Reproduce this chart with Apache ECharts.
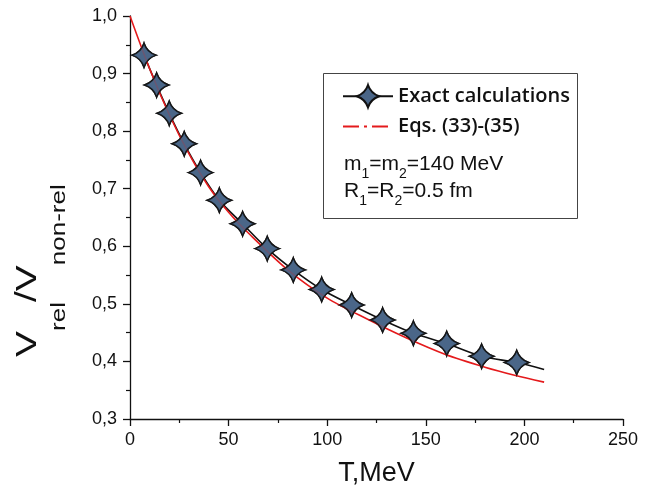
<!DOCTYPE html>
<html><head><meta charset="utf-8">
<script src="https://cdn.jsdelivr.net/npm/echarts@6/dist/echarts.min.js"></script>
<style>html,body{margin:0;padding:0;background:#fff}#c{width:663px;height:494px}</style>
</head><body><div id="c"></div>
<script>
// ---- data ----
const exactT = [7.1, 13.5, 19.9, 27.5, 35.8, 45.3, 57.1, 69.6, 82.8, 97.2, 112.4, 128.1, 143.7, 160.6, 178.3, 196.1];
const exactV = [0.932, 0.880, 0.831, 0.778, 0.728, 0.680, 0.639, 0.596, 0.559, 0.525, 0.498, 0.472, 0.449, 0.431, 0.409, 0.398];
const exactEndT = [210];
const exactEndV = [0.386];
const eqT = [0, 10, 20, 30, 40, 50, 60, 80, 100, 120, 140, 160, 180, 195, 210];
const eqV = [1.0, 0.908, 0.828, 0.760, 0.703, 0.659, 0.623, 0.559, 0.510, 0.474, 0.441, 0.412, 0.390, 0.376, 0.364];
const seriesNames = ['Exact calculations', 'Eqs. (33)-(35)'];
const xTickLabels = ['0', '50', '100', '150', '200', '250'];
const yTickLabels = ['0,3', '0,4', '0,5', '0,6', '0,7', '0,8', '0,9', '1,0'];

const FONT = '"Liberation Sans", Arial, sans-serif';
const STAR = 'path://M0,-12Q3,-3 12,0Q3,3 0,12Q-3,3 -12,0Q-3,-3 0,-12Z';
const starStyle = { color: '#4a6688', borderColor: '#111', borderWidth: 1.5 };

const mctx = document.createElement('canvas').getContext('2d');
function tw(t, s) { mctx.font = s + 'px "Liberation Sans"'; return mctx.measureText(t).width; }
function subText(parts, x, y, extra) {
  let cx = 0; const children = [];
  parts.forEach(([t, s, dy]) => {
    children.push({ type: 'text', x: cx, y: dy - 0.346 * s,
      style: { text: t, fontSize: s, fontFamily: FONT, fill: '#111',
               align: 'left', verticalAlign: 'middle', textAlign: 'left', textVerticalAlign: 'middle' } });
    cx += tw(t, s);
  });
  return Object.assign({ type: 'group', x: x, y: y, children: children }, extra || {});
}

const exactPairs = exactT.map((t, i) => [t, exactV[i]]);
const exactLine = exactPairs.concat(exactEndT.map((t, i) => ({ value: [t, exactEndV[i]], symbol: 'none' })));
const eqPairs = eqT.map((t, i) => [t, eqV[i]]);

const axisCommon = {
  axisLine: { show: true, lineStyle: { color: '#111', width: 1.3 } },
  axisTick: { show: true, length: 7, lineStyle: { color: '#111', width: 1.3 } },
  minorTick: { show: true, splitNumber: 2, length: 4, lineStyle: { color: '#111', width: 1.2 } },
  splitLine: { show: false }
};

const chart = echarts.init(document.getElementById('c'));
chart.setOption({
  animation: false,
  backgroundColor: '#fff',
  grid: { left: 130, right: 40, top: 16, bottom: 75 },
  xAxis: Object.assign({
    type: 'value', min: 0, max: 250, interval: 50,
    name: 'T,MeV', nameLocation: 'middle', nameGap: 41,
    nameTextStyle: { fontSize: 27, color: '#111', fontFamily: FONT },
    axisLabel: { fontSize: 18, color: '#111', fontFamily: FONT, margin: 12,
                 formatter: v => xTickLabels[Math.round(v / 50)] }
  }, axisCommon),
  yAxis: Object.assign({
    type: 'value', min: 0.3, max: 1.0, interval: 0.1,
    axisLabel: { fontSize: 18, color: '#111', fontFamily: FONT, margin: 13,
                 formatter: v => yTickLabels[Math.round((v - 0.3) * 10)] }
  }, axisCommon),
  legend: {
    orient: 'vertical', left: 342, top: 84, padding: 0,
    itemWidth: 50, itemHeight: 28, itemGap: 7,
    textStyle: { fontFamily: '"Open Sans"', fontWeight: 600, fontSize: 20, color: '#111' },
    data: [{ name: seriesNames[0] },
           { name: seriesNames[1], lineStyle: { type: [16, 5, 3, 5] }, itemStyle: { opacity: 0 } }]
  },
  series: [
    { name: seriesNames[0], type: 'line', data: exactLine, smooth: 0.3,
      symbol: STAR, symbolSize: 24, itemStyle: starStyle,
      lineStyle: { color: '#111', width: 1.6 }, z: 2 },
    { name: seriesNames[1], type: 'line', data: eqPairs, smooth: 0.3,
      symbol: 'none',
      lineStyle: { color: '#e41a1c', width: 1.6 }, itemStyle: { color: '#e41a1c' }, z: 3 },
    { name: 'points', type: 'scatter', data: exactPairs, symbol: STAR, symbolSize: 24,
      itemStyle: starStyle, z: 4 }
  ],
  graphic: [
    { type: 'rect', shape: { x: 323.5, y: 73.5, width: 254, height: 145 },
      style: { fill: 'none', stroke: '#444', lineWidth: 1 } },
    subText([['m', 21, 0], ['1', 14, 8], ['=m', 21, 0], ['2', 14, 8], ['=140 MeV', 21, 0]], 344, 171),
    subText([['R', 21, 0], ['1', 14, 8], ['=R', 21, 0], ['2', 14, 8], ['=0.5 fm', 21, 0]], 344, 198),
    subText([['V', 30, 0], ['rel', 20, 28], ['/V', 30, 0], ['non-rel', 20, 28]], 38, 357,
            { rotation: Math.PI / 2, scaleX: 1.3 })
  ]
});
</script>
</body></html>
